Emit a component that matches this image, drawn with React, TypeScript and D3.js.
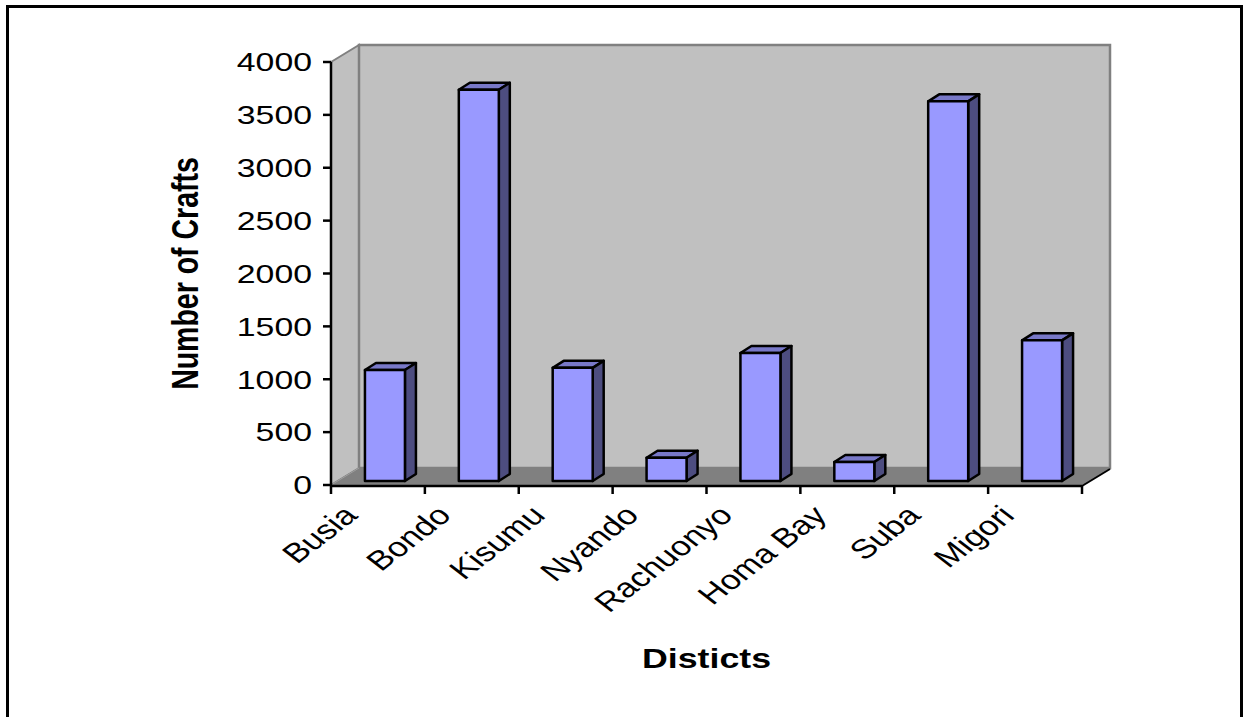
import React from "react";
import * as d3 from "d3";

const categories = ["Busia", "Bondo", "Kisumu", "Nyando", "Rachuonyo", "Homa Bay", "Suba", "Migori"];
const values = [1050, 3700, 1070, 220, 1210, 180, 3590, 1330];
const yTicks = [0, 500, 1000, 1500, 2000, 2500, 3000, 3500, 4000];
const yTitle = "Number of Crafts";
const xTitle = "Disticts";

export default function App() {
  const W = 1244, H = 717;
  const left = 331, right = 1082, bottom = 485, top = 62;
  const DX = 28, DY = -17;
  const x = d3.scaleBand<string>().domain(categories).range([left, right]).paddingInner(0).paddingOuter(0);
  const y = d3.scaleLinear().domain([0, 4000]).range([bottom, top]);
  const bw = x.bandwidth();
  const barW = 40;
  const fx = 7, fy = -4;
  const bdx = 11, bdy = -7;
  const font = "Liberation Sans, Arial, sans-serif";
  const SX = 1.3; // horizontal stretch of text

  const bars = categories.map((c, i) => {
    const x0 = (x(c) as number) + (bw - barW) / 2 + fx;
    const x1 = x0 + barW;
    const yb = y(0) + fy;
    const yt = y(values[i]) + fy;
    return { c, x0, x1, yb, yt };
  });

  const pts = (a: number[][]) => a.map(p => p.join(",")).join(" ");

  return (
    <svg width={W} height={H} style={{ position: "absolute", left: 0, top: 0 }}>
      <rect x={0} y={0} width={W} height={H} fill="#fff" />
      <rect x={7.5} y={6.5} width={1234} height={730} fill="none" stroke="#000" strokeWidth={3} />
      <polygon points={pts([[left, y(4000)], [left + DX, y(4000) + DY], [left + DX, bottom + DY], [left, bottom]])} fill="#C0C0C0" stroke="#808080" strokeWidth={2} />
      <rect x={left + DX} y={y(4000) + DY} width={right - left} height={bottom - top} fill="#C0C0C0" stroke="#808080" strokeWidth={2.5} />
      <polygon points={pts([[left, bottom], [left + DX, bottom + DY], [right + DX, bottom + DY], [right, bottom]])} fill="#808080" stroke="#808080" strokeWidth={1} />
      <line x1={left} y1={bottom} x2={left + DX} y2={bottom + DY} stroke="#A0A0A0" strokeWidth={1} />
      {bars.map(b => (
        <g key={b.c} stroke="#000" strokeWidth={2.5} strokeLinejoin="round">
          <polygon points={pts([[b.x0, b.yt], [b.x0 + bdx, b.yt + bdy], [b.x1 + bdx, b.yt + bdy], [b.x1, b.yt]])} fill="#7878C8" />
          <polygon points={pts([[b.x1, b.yt], [b.x1 + bdx, b.yt + bdy], [b.x1 + bdx, b.yb + bdy], [b.x1, b.yb]])} fill="#4D4D80" />
          <rect x={b.x0} y={b.yt} width={barW} height={b.yb - b.yt} fill="#9999FF" />
        </g>
      ))}
      <line x1={left} y1={top} x2={left} y2={bottom + 1} stroke="#000" strokeWidth={2.5} />
      {yTicks.map(t => (
        <g key={t}>
          <line x1={left - 8} x2={left} y1={y(t)} y2={y(t)} stroke="#000" strokeWidth={2.5} />
          <text transform={`translate(${left - 19} ${y(t)}) scale(${SX} 1)`} dy="0.36em" textAnchor="end" fontFamily={font} fontSize={26}>{t}</text>
        </g>
      ))}
      <line x1={left - 1} y1={bottom + 1} x2={right} y2={bottom + 1} stroke="#000" strokeWidth={2.5} />
      <line x1={right} y1={bottom + 1} x2={right + DX} y2={bottom + 1 + DY} stroke="#000" strokeWidth={2} />
      {[...categories.map(c => x(c) as number), right].map((v, i) => (
        <line key={i} x1={v} x2={v} y1={bottom + 1} y2={bottom + 9} stroke="#000" strokeWidth={2.5} />
      ))}
      {categories.map(c => {
        const cx = (x(c) as number) + bw / 2 - 19;
        const cy = 517;
        return (
          <text key={c} transform={`translate(${cx} ${cy}) scale(${SX} 1) rotate(-45)`} textAnchor="end" fontFamily={font} fontSize={27}>{c}</text>
        );
      })}
      <text transform={`translate(${(left + right) / 2} 668) scale(${SX} 1)`} textAnchor="middle" fontFamily={font} fontSize={27.5} fontWeight="bold">{xTitle}</text>
      <text transform={`translate(198 ${(top + bottom) / 2}) scale(${SX} 1) rotate(-90)`} textAnchor="middle" fontFamily={font} fontSize={28.5} fontWeight="bold">{yTitle}</text>
    </svg>
  );
}
